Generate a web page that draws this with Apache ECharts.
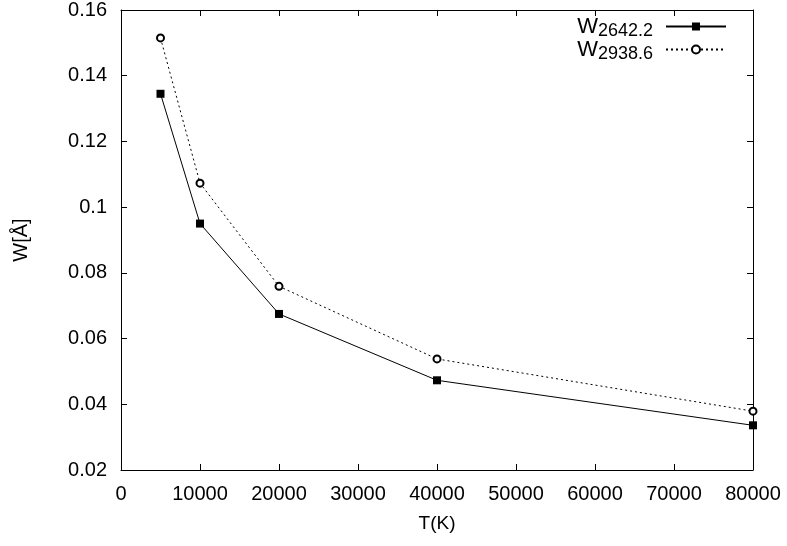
<!DOCTYPE html>
<html>
<head>
<meta charset="utf-8">
<script src="https://cdn.jsdelivr.net/npm/echarts@6/dist/echarts.min.js"></script>
<style>
  html, body { margin: 0; padding: 0; background: #fff; }
  #chart { width: 787px; height: 546px; }
</style>
</head>
<body>
<div id="chart"></div>
<script>
// temperatures (K)
var temps = [5000, 10000, 20000, 40000, 80000]
// widths for the two lines
var w2642 = [0.1345, 0.095, 0.0675, 0.0473, 0.0336]
var w2938 = [0.1515, 0.1073, 0.0759, 0.0538, 0.0379]

var seriesNames = ['W2642.2', 'W2938.6']
var subs = { 'W2642.2': '2642.2', 'W2938.6': '2938.6' }

function pairs (xs, ys) {
  return xs.map(function (x, i) { return [x, ys[i]] })
}

var font = 'Liberation Sans, Arial, sans-serif'

var chart = echarts.init(document.getElementById('chart'))

var mirrorX = {
  type: 'value',
  min: 0,
  max: 80000,
  interval: 10000,
  axisLine: { show: true, onZero: false, lineStyle: { color: '#000', width: 1 } },
  axisTick: { show: true, inside: true, length: 6, lineStyle: { color: '#000' } },
  axisLabel: { show: false },
  splitLine: { show: false }
}
var mirrorY = {
  type: 'value',
  min: 0.02,
  max: 0.16,
  interval: 0.02,
  axisLine: { show: true, onZero: false, lineStyle: { color: '#000', width: 1 } },
  axisTick: { show: true, inside: true, length: 6, lineStyle: { color: '#000' } },
  axisLabel: { show: false },
  splitLine: { show: false }
}

chart.setOption({
  animation: false,
  backgroundColor: '#fff',
  textStyle: { fontFamily: font },
  grid: {
    left: 121,
    right: 34,
    top: 7,
    bottom: 76
  },
  legend: {
    data: seriesNames,
    orient: 'vertical',
    align: 'right',
    right: 60,
    top: 13,
    padding: 0,
    itemGap: -4,
    itemWidth: 60,
    itemHeight: 10,
    formatter: function (name) {
      return '{w|W}{s|' + subs[name] + '}'
    },
    textStyle: {
      color: '#000',
      fontFamily: font,
      rich: {
        w: { fontSize: 22, fontFamily: font, color: '#000', lineHeight: 22 },
        s: { fontSize: 18, fontFamily: font, color: '#000', lineHeight: 22, padding: [9, 8, 0, 0] }
      }
    }
  },
  xAxis: [
    {
      type: 'value',
      min: 0,
      max: 80000,
      interval: 10000,
      name: 'T(K)',
      nameLocation: 'middle',
      nameGap: 44,
      nameTextStyle: { fontSize: 19, color: '#000', fontFamily: font },
      axisLine: { show: true, onZero: false, lineStyle: { color: '#000', width: 1 } },
      axisTick: { show: true, inside: true, length: 6, lineStyle: { color: '#000' } },
      axisLabel: {
        color: '#000',
        fontSize: 20,
        margin: 14,
        fontFamily: font,
        formatter: function (v) { return String(v) }
      },
      splitLine: { show: false }
    },
    Object.assign({ position: 'top' }, mirrorX)
  ],
  yAxis: [
    {
      type: 'value',
      min: 0.02,
      max: 0.16,
      interval: 0.02,
      name: 'W[Å]',
      nameLocation: 'middle',
      nameGap: 90,
      nameRotate: 90,
      nameTextStyle: { fontSize: 20, color: '#000', fontFamily: font },
      axisLine: { show: true, onZero: false, lineStyle: { color: '#000', width: 1 } },
      axisTick: { show: true, inside: true, length: 6, lineStyle: { color: '#000' } },
      axisLabel: {
        color: '#000',
        fontSize: 20,
        margin: 14,
        fontFamily: font,
        formatter: function (v) { return String(+v.toFixed(2)) }
      },
      splitLine: { show: false }
    },
    Object.assign({ position: 'right' }, mirrorY)
  ],
  series: [
    {
      name: seriesNames[0],
      type: 'line',
      data: pairs(temps, w2642),
      symbol: 'rect',
      symbolSize: 8,
      lineStyle: { color: '#000', width: 1 },
      itemStyle: { color: '#000' }
    },
    {
      name: seriesNames[1],
      type: 'line',
      data: pairs(temps, w2938),
      symbol: 'emptyCircle',
      symbolSize: 7,
      lineStyle: { color: '#000', width: 1, type: [2, 3] },
      itemStyle: { color: '#000', borderColor: '#333', borderWidth: 1 }
    }
  ]
})
</script>
</body>
</html>
